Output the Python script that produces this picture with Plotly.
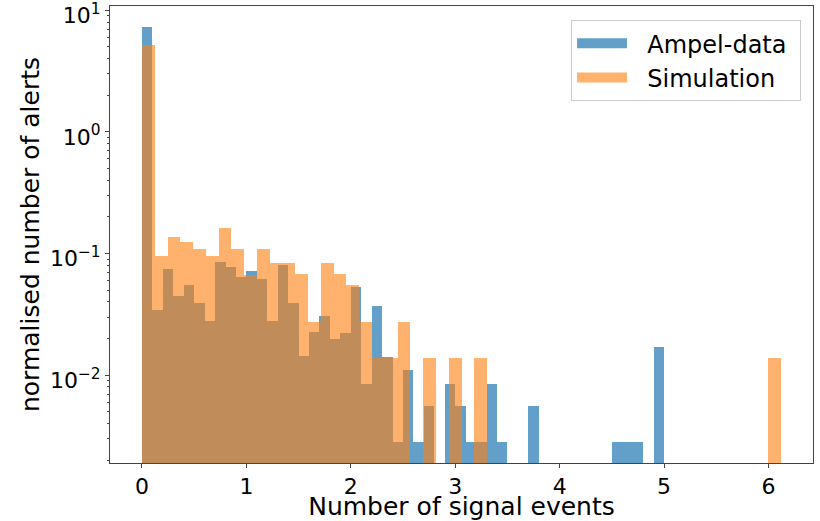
import plotly.graph_objects as go

# ---- data (normalised histogram heights) ----
blue_bin_start = 0.0
blue_bin_width = 0.1
ampel_values = [
    7.30, 0.0341, 0.0751, 0.0445, 0.0554, 0.0389, 0.0279, 0.0847, 0.0780, 0.0642,
    0.0714, 0.0618, 0.0277, 0.0810, 0.0389, 0.0143, 0.0225, 0.0308, 0.0199, 0.0222,
    0.0534, 0.0085, 0.0368, 0.0142, 0.0028, 0.0111, 0.0028, 0.0056, 0.0, 0.0085,
    0.0056, 0.0028, 0.0028, 0.0085, 0.0028, 0.0, 0.0, 0.0056, 0.0, 0.0,
    0.0, 0.0, 0.0, 0.0, 0.0, 0.0028, 0.0028, 0.0028, 0.0, 0.0169,
]

orange_bin_start = 0.0
orange_bin_width = 0.1224
simulation_values = [
    5.22, 0.0948, 0.136, 0.1236, 0.1096, 0.0948, 0.1624, 0.1096, 0.0664, 0.109,
    0.0837, 0.0837, 0.0684, 0.0272, 0.0837, 0.0684, 0.0548, 0.0272, 0.0138, 0.0138,
    0.0272, 0.0, 0.0138, 0.0, 0.0138, 0.0, 0.0138, 0.0, 0.0, 0.0,
    0.0, 0.0, 0.0, 0.0, 0.0, 0.0, 0.0, 0.0, 0.0, 0.0,
    0.0, 0.0, 0.0, 0.0, 0.0, 0.0, 0.0, 0.0, 0.0, 0.0138,
]

series_names = ["Ampel-data", "Simulation"]
x_tick_values = [0, 1, 2, 3, 4, 5, 6]
y_tick_values = [1e1, 1e0, 1e-1, 1e-2]
y_tick_labels = ["10<sup>1</sup>", "10<sup>0</sup>", "10<sup>\u22121</sup>", "10<sup>\u22122</sup>"]
x_title = "Number of signal events"
y_title = "normalised number of alerts"


def centers(start, width, n):
    return [start + width * (i + 0.5) for i in range(n)]


def nonzero(xs, ys):
    pts = [(x, y) for x, y in zip(xs, ys) if y > 0]
    return [p[0] for p in pts], [p[1] for p in pts]


bx, by = nonzero(centers(blue_bin_start, blue_bin_width, len(ampel_values)), ampel_values)
ox, oy = nonzero(centers(orange_bin_start, orange_bin_width, len(simulation_values)), simulation_values)

FONT = "DejaVu Sans"
AXIS_COLOR = "#444444"
BLUE = "rgba(31,119,180,0.7)"
ORANGE = "rgba(255,127,14,0.6)"
PAD = "\u00a0\u00a0"

fig = go.Figure()
fig.add_trace(go.Bar(
    x=bx, y=by, width=blue_bin_width, name=series_names[0],
    legendgroup="a", showlegend=False,
    marker=dict(color=BLUE, line=dict(width=0)),
))
fig.add_trace(go.Bar(
    x=ox, y=oy, width=orange_bin_width, name=series_names[1],
    legendgroup="s", showlegend=False,
    marker=dict(color=ORANGE, line=dict(width=0)),
))
# legend entries drawn as wide patches (matplotlib-style rectangles)
fig.add_trace(go.Scatter(x=[None], y=[None], mode="lines", name=PAD + series_names[0] + "\u00a0",
                         legendgroup="a", line=dict(color=BLUE, width=17)))
fig.add_trace(go.Scatter(x=[None], y=[None], mode="lines", name=PAD + series_names[1] + "\u00a0",
                         legendgroup="s", line=dict(color=ORANGE, width=17)))

minor_vals = [m * 10 ** e for e in range(-3, 2) for m in range(2, 10)]

fig.update_layout(
    width=820, height=521,
    barmode="overlay", bargap=0,
    paper_bgcolor="white", plot_bgcolor="white",
    margin=dict(l=110, r=7, t=6, b=58),
    font=dict(family=FONT, color="black"),
    showlegend=True,
    legend=dict(
        x=0.983, y=0.969, xanchor="right", yanchor="top",
        bgcolor="white", bordercolor="#cccccc", borderwidth=1,
        font=dict(family=FONT, size=24, color="black"),
        itemwidth=50, tracegroupgap=0,
    ),
    xaxis=dict(
        range=[-0.306, 6.426], automargin=False,
        tickmode="array", tickvals=x_tick_values,
        ticktext=[str(v) for v in x_tick_values],
        ticks="outside", ticklen=4, tickwidth=1, tickcolor=AXIS_COLOR,
        showline=True, linecolor=AXIS_COLOR, linewidth=1, mirror=True,
        showgrid=False, zeroline=False,
        tickfont=dict(family=FONT, size=22, color="black"),
        title=dict(text=x_title, font=dict(family=FONT, size=25, color="black"), standoff=3),
    ),
    yaxis=dict(
        type="log", automargin=False,
        range=[-2.722, 1.035],
        tickmode="array", tickvals=y_tick_values, ticktext=y_tick_labels,
        ticklabeloverflow="allow", ticklabelshift=5,
        ticks="outside", ticklen=4, tickwidth=1, tickcolor=AXIS_COLOR,
        showline=True, linecolor=AXIS_COLOR, linewidth=1, mirror=True,
        showgrid=False, zeroline=False,
        tickfont=dict(family=FONT, size=22, color="black"),
        minor=dict(tickmode="array", tickvals=minor_vals, ticks="outside",
                   ticklen=2, tickwidth=1, tickcolor=AXIS_COLOR, showgrid=False),
        title=dict(text=y_title, font=dict(family=FONT, size=25, color="black"), standoff=3),
    ),
)

fig.write_html("out.html", config={"displayModeBar": False},
               post_script="document.body.style.margin='0';")
